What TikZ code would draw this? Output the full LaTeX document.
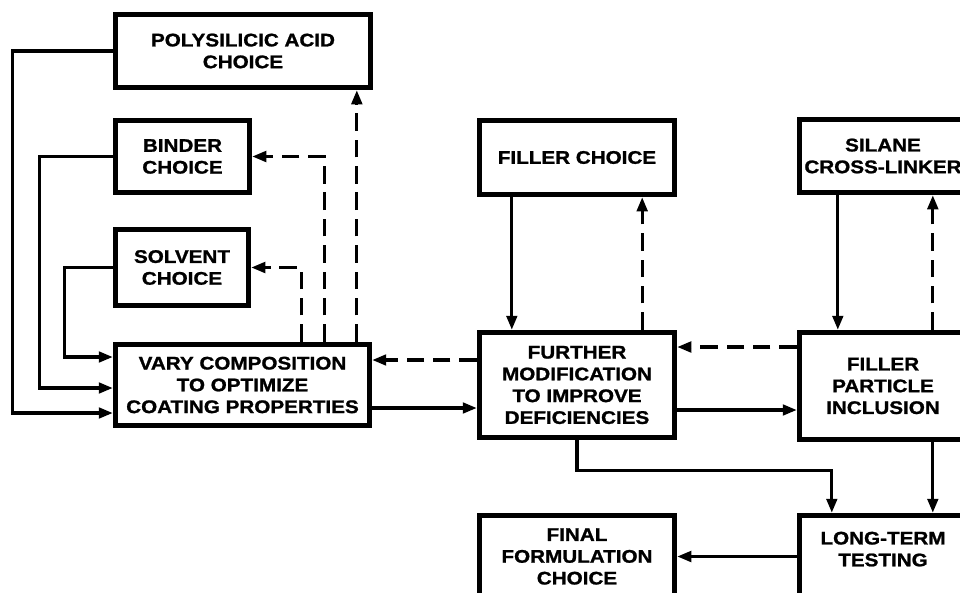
\documentclass[tikz,border=0pt]{standalone}
\usepackage{fontspec}
\setmainfont{Liberation Sans}[FakeStretch=1.13, BoldFeatures={FakeBold=1.2}]
\usetikzlibrary{arrows.meta, positioning, calc}

\begin{document}
\begin{tikzpicture}[x=0.02cm, y=-0.02cm,
  box/.style={draw, line width=2.8pt, align=center, inner sep=0pt,
    font=\fontsize{10.4}{12.4}\selectfont\bfseries},
  flow/.style={line width=1.8pt, -{Triangle[length=8pt, width=6pt]}},
  back/.style={flow, dash pattern=on 10pt off 5pt}]
  \useasboundingbox (0,0) rectangle (960,592);
  % left column: the choices that feed the coating composition
  \node[box, minimum width=5.11cm, minimum height=1.47cm] (acid) at (243,51) {POLYSILICIC ACID\\CHOICE};
  \node[box, minimum width=2.69cm, minimum height=1.45cm] (binder) at (182.5,156.5) {BINDER\\CHOICE};
  \node[box, minimum width=2.67cm, minimum height=1.53cm] (solvent) at (182,267.5) {SOLVENT\\CHOICE};
  \node[box, minimum width=5.09cm, minimum height=1.63cm] (vary) at (242.5,385) {VARY COMPOSITION\\TO OPTIMIZE\\COATING PROPERTIES};
  % middle column
  \node[box, minimum width=3.91cm, minimum height=1.49cm] (filler) at (577,157.5) {FILLER CHOICE};
  \node[box, minimum width=3.91cm, minimum height=2.11cm] (further) at (577,385) {FURTHER\\MODIFICATION\\TO IMPROVE\\DEFICIENCIES};
  \node[box, minimum width=3.91cm, minimum height=1.65cm] (final) at (577,556.5) {FINAL\\FORMULATION\\CHOICE};
  % right column (runs off the page edge)
  \node[box, minimum width=3.35cm, minimum height=1.47cm] (silane) at (883,156) {SILANE\\CROSS-LINKER};
  \node[box, minimum width=3.35cm, minimum height=2.15cm] (particle) at (883,386) {FILLER\\PARTICLE\\INCLUSION};
  \node[box, minimum width=3.35cm, minimum height=1.65cm, text depth=0.3cm] (longterm) at (883,556.5) {LONG-TERM\\TESTING};

  % choices into the composition step
  \draw[flow] (acid.west) -- ++(-100,0) |- ($(vary.west)+(0,28)$);
  \draw[flow] (binder.west) -- ++(-73,0) |- ($(vary.west)+(0,3)$);
  \draw[flow] (solvent.west) -- ++(-48,0) |- ($(vary.west)+(0,-28)$);
  % feedback to the choices
  \draw[back] ($(vary.north west)+(189,0)$) |- (solvent.east);
  \draw[back] ($(vary.north west)+(212,0)$) |- (binder.east);
  \draw[back] ($(vary.north west)+(244,0)$) coordinate (upacid) -- (upacid |- acid.south);
  % composition <-> further modification
  \draw[back] ($(further.west)+(0,-25)$) coordinate (backvary) -- (backvary -| vary.east);
  \draw[flow] ($(vary.east)+(0,23)$) coordinate (tofurther) -- (tofurther -| further.west);
  % filler choice <-> further modification
  \draw[flow] ($(filler.south west)+(35,0)$) coordinate (downfill) -- (downfill |- further.north);
  \draw[back] ($(further.north east)+(-35,0)$) coordinate (upfill) -- (upfill |- filler.south);
  % silane <-> particle inclusion
  \draw[flow] ($(silane.south west)+(41,0)$) coordinate (downsil) -- (downsil |- particle.north);
  \draw[back] ($(particle.north west)+(136,0)$) coordinate (upsil) -- (upsil |- silane.south);
  % further modification <-> particle inclusion
  \draw[back] ($(particle.west)+(0,-39)$) coordinate (backfur) -- (backfur -| further.east);
  \draw[flow] ($(further.east)+(0,25)$) coordinate (topart) -- (topart -| particle.west);
  % into testing and final choice
  \draw[flow] (further.south) -- ++(0,30) -| ($(longterm.north west)+(35,0)$);
  \draw[flow] ($(particle.south west)+(136,0)$) coordinate (downtest) -- (downtest |- longterm.north);
  \draw[flow] (longterm.west |- final.east) -- (final.east);
\end{tikzpicture}
\end{document}
